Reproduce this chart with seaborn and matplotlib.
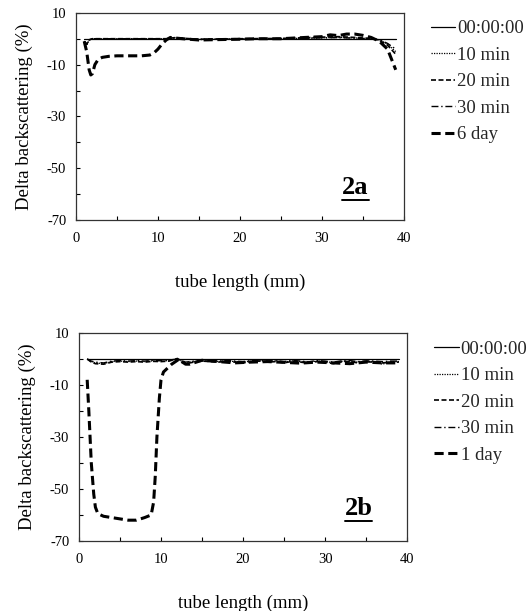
import numpy as np
import pandas as pd
import seaborn as sns
import matplotlib
matplotlib.use("Agg")
import matplotlib.pyplot as plt
from matplotlib.lines import Line2D

sns.set_theme(style="white")
plt.rcParams['font.family'] = ['Liberation Serif', 'DejaVu Serif']

# ---------------- data: panel 2a ----------------
a_labels = ["00:00:00", "10 min", "20 min", "30 min", "6 day"]
a_x_base = [1, 39]
a_y_base = [0, 0]
a_x_short = [1, 1.3, 1.6, 2, 4, 8, 11, 12, 15, 20, 25, 28, 30, 32, 34, 36, 37, 38, 39]
a_y_10 = [-1, -2.5, -0.5, 0, 0, 0, 0, 0.3, -0.3, 0, 0, 0.2, 0.3, 0.5, 0.3, 0, -0.5, -2, -5]
a_y_20 = [-1, -2.0, -0.4, 0, 0, 0, 0, 0.4, -0.2, 0, 0.1, 0.4, 0.6, 0.8, 0.5, 0.1, -0.6, -2.5, -6]
a_y_30 = [-1, -2.2, -0.5, 0, 0, 0, 0, 0.3, -0.3, 0, 0, 0.2, 0.4, 0.4, 0.2, 0, -0.4, -1.8, -4]
a_x_6d = [1, 1.3, 1.6, 1.8, 2, 2.3, 2.7, 3.2, 4, 5, 7, 8, 9, 9.5, 10, 10.5, 11, 11.5, 12, 13,
          15, 18, 20, 22, 25, 28, 30, 31, 32, 33, 34, 35, 36, 37, 38, 38.5, 39]
a_y_6d = [-1, -5, -12, -14, -13.5, -10, -8, -7.2, -6.8, -6.6, -6.6, -6.6, -6.3, -5.5, -4, -2, -0.5,
          0.5, 0.3, 0, -0.5, -0.3, -0.2, 0, 0, 0.5, 0.8, 1.5, 1.2, 1.8, 1.8, 1.3, 0.5, -1, -4, -8, -12]

# ---------------- data: panel 2b ----------------
b_labels = ["00:00:00", "10 min", "20 min", "30 min", "1 day"]
b_x_base = [1, 39]
b_y_base = [0, 0]
b_x_short = [1, 1.5, 2, 3, 4, 5, 6, 7, 8, 9, 10, 11, 12, 13, 14, 15, 16, 17, 18, 19, 20, 21, 22,
             23, 24, 25, 26, 27, 28, 29, 30, 31, 32, 33, 34, 35, 36, 37, 38, 39]
b_y_10 = [0, -1, -1.5, -1.8, -1, -0.8, -1, -0.8, -1, -0.7, -0.8, -0.6, 0, -1.5, -1, -0.6, -0.8, -1,
          -0.7, -1, -1.2, -0.8, -0.6, -1, -0.8, -1.2, -0.7, -1, -1.3, -0.8, -1, -1.4, -0.9, -0.8,
          -1.2, -0.9, -1, -2, -1, -1]
b_y_20 = [0, -1.2, -1.8, -2, -1.2, -1, -1.2, -1, -1.2, -0.9, -1, -0.8, 0.2, -1.8, -1.2, -0.8, -1,
          -1.2, -0.9, -1.2, -1.5, -1, -0.8, -1.2, -1, -1.5, -0.9, -1.2, -1.6, -1, -1.2, -1.8, -1.1,
          -1, -1.5, -1.1, -1.2, -1.5, -1.2, -1.2]
b_y_30 = [0, -0.8, -1.2, -1.5, -0.8, -0.6, -0.8, -0.6, -0.8, -0.5, -0.6, -0.4, 0, -1.2, -0.8, -0.4,
          -0.6, -0.8, -0.5, -0.8, -1, -0.6, -0.4, -0.8, -0.6, -1, -0.5, -0.8, -1.1, -0.6, -0.8,
          -1.2, -0.7, -0.6, -1, -0.7, -0.8, -1, -0.8, -0.8]
b_x_1d = [1, 1.2, 1.5, 1.8, 2, 2.3, 3, 4, 5, 6, 7, 8, 8.8, 9.1, 9.3, 9.5, 9.8, 10, 10.3, 10.8,
          11.3, 12, 12.2, 12.5, 13, 13.5, 14, 15, 17, 19, 21, 23, 25, 27, 29, 31, 33, 35, 37, 39]
b_y_1d = [-8, -20, -40, -52, -57, -59.5, -60.5, -61, -61.5, -62, -62, -61, -60, -55, -45, -30,
          -15, -8, -5, -3.5, -2, -0.5, 0, -1, -2, -2, -1.5, -0.5, -1, -1.5, -1.2, -1, -1.3, -1.6,
          -1.2, -1.5, -1.8, -1.2, -1.5, -1.5]

styles = [
    dict(linestyle='-', linewidth=0.9),
    dict(linestyle=(0, (1, 1)), linewidth=0.9),
    dict(linestyle=(0, (3, 1.5)), linewidth=1.2),
    dict(linestyle=(0, (5, 2, 1, 2)), linewidth=1.0),
    dict(linestyle=(0, (3, 1.5)), linewidth=2.2),
]

fig = plt.figure(figsize=(5.28, 6.11), dpi=100)
ax1 = fig.add_axes([0.144, 0.640, 0.621, 0.339])
ax2 = fig.add_axes([0.1496, 0.1146, 0.6214, 0.3404])

panels = [
    (ax1, a_labels, [(a_x_base, a_y_base), (a_x_short, a_y_10), (a_x_short, a_y_20),
                     (a_x_short, a_y_30), (a_x_6d, a_y_6d)], "2a"),
    (ax2, b_labels, [(b_x_base, b_y_base), (b_x_short, b_y_10), (b_x_short, b_y_20),
                     (b_x_short, b_y_30), (b_x_1d, b_y_1d)], "2b"),
]

for ax, labels, series, tag in panels:
    for (xs, ys), st in zip(series, styles):
        df = pd.DataFrame({"x": xs, "y": ys})
        sns.lineplot(data=df, x="x", y="y", ax=ax, color='black', legend=False,
                     estimator=None, sort=False, **st)
    ax.set_xlim(0, 40)
    ax.set_ylim(-70, 10)
    ax.set_xticks(np.arange(0, 41, 5))
    ax.set_xticklabels([str(v) if v % 10 == 0 else "" for v in range(0, 41, 5)])
    ax.set_yticks(np.arange(-70, 11, 10))
    ax.set_yticklabels([str(v) if (v + 70) % 20 == 0 else "" for v in range(-70, 11, 10)])
    ax.tick_params(direction='in', length=3, width=0.8, color='black', labelsize=10.5,
                   labelcolor='black', bottom=True, left=True)
    ax.tick_params(axis='x', pad=9)
    ax.tick_params(axis='y', pad=7)
    for s in ax.spines.values():
        s.set_color('#333333')
        s.set_linewidth(0.9)
    ax.set_xlabel("tube length (mm)", fontsize=13.5, labelpad=20, color='black')
    ax.set_ylabel("Delta backscattering (%)", fontsize=13.5, labelpad=10, color='black')
    ax.text(0.852, 0.10, tag, transform=ax.transAxes, fontsize=19, fontweight='bold',
            ha='center', va='bottom', color='black')
    ax.plot([0.81, 0.893], [0.095, 0.095], transform=ax.transAxes, color='black', lw=1.4)
    handles = [Line2D([0], [0], color='black', **st) for st in styles]
    ax.legend(handles, labels, loc='upper left', bbox_to_anchor=(1.06, 1.0), frameon=False,
              fontsize=13.5, handlelength=1.3, handletextpad=0.1, labelspacing=0.5,
              borderaxespad=0)

fig.savefig("out.png", dpi=100, facecolor='white')
